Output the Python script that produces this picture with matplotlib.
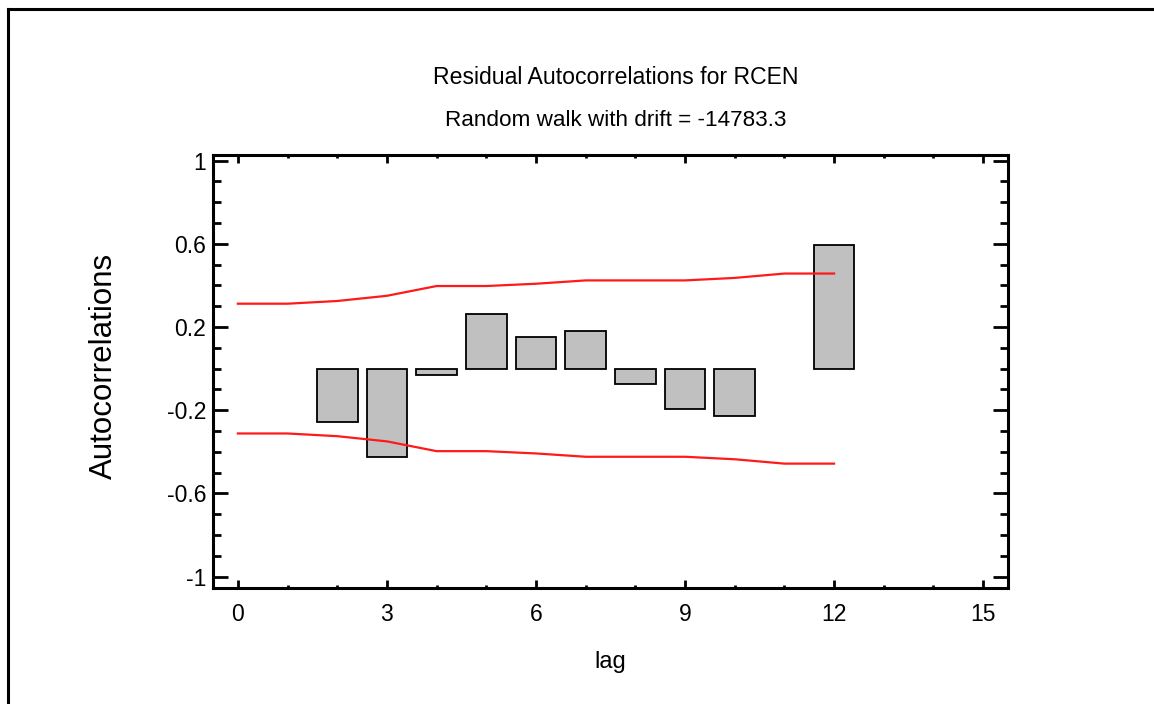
import matplotlib
matplotlib.use("Agg")
import matplotlib.pyplot as plt
from matplotlib.ticker import MultipleLocator, FuncFormatter
from matplotlib.lines import Line2D

plt.rcParams['font.family'] = ['Liberation Sans', 'DejaVu Sans']

# Data
lags = [2, 3, 4, 5, 6, 7, 8, 9, 10, 12]
autocorr = [-0.257, -0.424, -0.03, 0.263, 0.152, 0.181, -0.074, -0.194, -0.228, 0.594]
limit_lags = [0, 1, 2, 3, 4, 5, 6, 7, 8, 9, 10, 11, 12]
upper_limit = [0.312, 0.312, 0.325, 0.35, 0.397, 0.397, 0.408, 0.424, 0.424, 0.424, 0.436, 0.457, 0.457]
lower_limit = [-u for u in upper_limit]
x_ticks = [0, 3, 6, 9, 12, 15]
y_ticks = [-1, -0.6, -0.2, 0.2, 0.6, 1]

title1 = "Residual Autocorrelations for RCEN"
title2 = "Random walk with drift = -14783.3"

fig = plt.figure(figsize=(11.54, 7.04), dpi=100)
ax = fig.add_axes([213/1154, 1-588/704, (1008-213)/1154, (588-155)/704])

ax.bar(lags, autocorr, width=0.82, color='#c0c0c0', edgecolor='black', linewidth=1.3, zorder=2)
ax.plot(limit_lags, upper_limit, color='#ff1a1a', lw=1.6, zorder=3)
ax.plot(limit_lags, lower_limit, color='#ff1a1a', lw=1.6, zorder=3)

ax.set_xlim(-0.5, 15.5)
ax.set_ylim(-1.055, 1.027)
ax.set_xticks(x_ticks)
ax.set_yticks(y_ticks)
ax.xaxis.set_minor_locator(MultipleLocator(1))
ax.yaxis.set_minor_locator(MultipleLocator(0.1))

def fmt(v, pos):
    return '%g' % v
ax.yaxis.set_major_formatter(FuncFormatter(fmt))

for sp in ax.spines.values():
    sp.set_linewidth(2.2)

ax.tick_params(axis='both', which='both', direction='in', top=True, right=True, width=2.0, labelsize=16.5)
ax.tick_params(axis='y', which='major', length=11, pad=5)
ax.tick_params(axis='y', which='minor', length=5.5)
ax.tick_params(axis='x', which='major', length=6, pad=11)
ax.tick_params(axis='x', which='minor', length=2.5)

ax.set_xlabel('lag', fontsize=17, labelpad=18)
ax.set_ylabel('Autocorrelations', fontsize=22.5)
ax.yaxis.set_label_coords((119 - 213) / (1008 - 213), (588 - 366) / (588 - 155))

cx = 616/1154
fig.text(cx, 1-77/704, title1, ha='center', va='center', fontsize=16.6)
fig.text(cx, 1-120/704, title2, ha='center', va='center', fontsize=16.2)

# outer frame (top and left edges)
fig.add_artist(Line2D([8/1154, 8/1154], [0, 1-9/704], transform=fig.transFigure, color='black', lw=2.2))
fig.add_artist(Line2D([8/1154, 1], [1-9/704, 1-9/704], transform=fig.transFigure, color='black', lw=2.2))

fig.savefig('out.png', dpi=100)
